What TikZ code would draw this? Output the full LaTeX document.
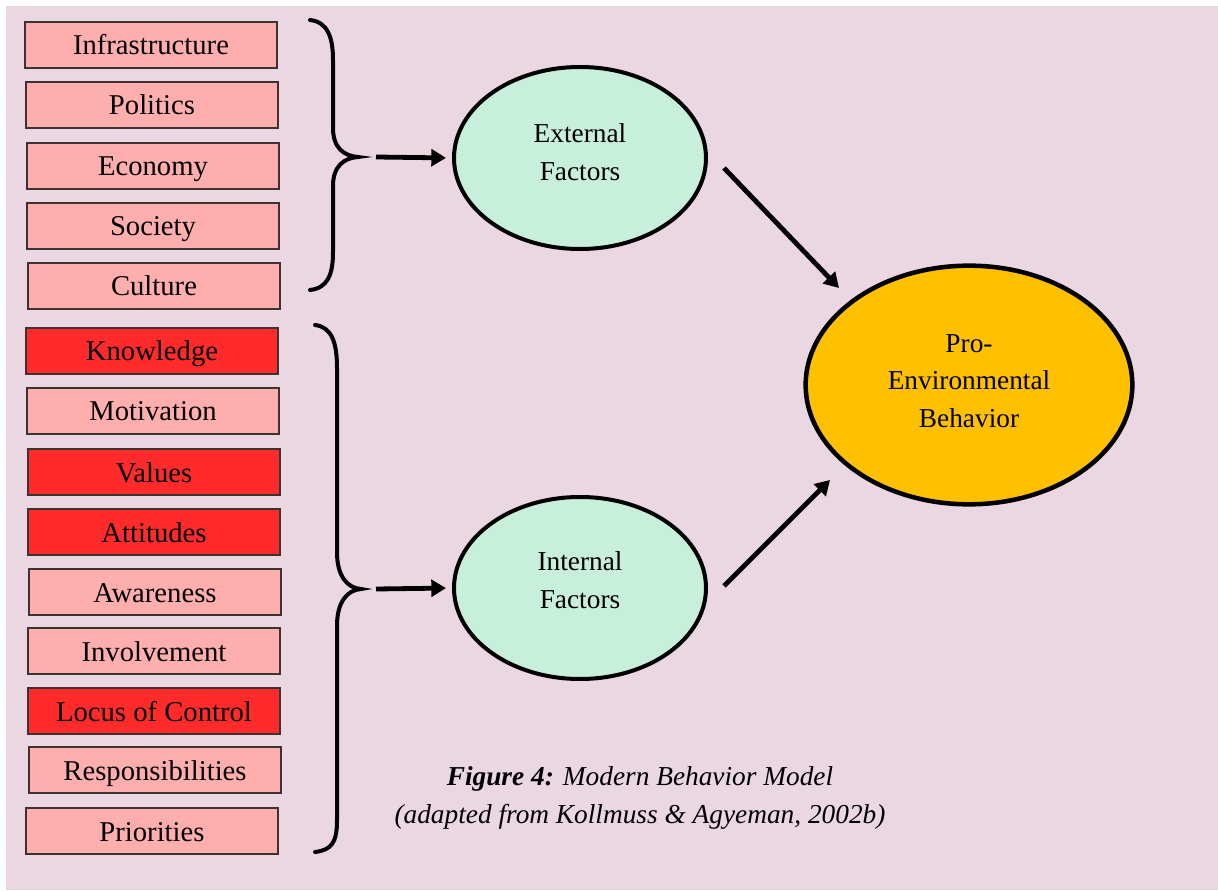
\documentclass[tikz,border=0pt]{standalone}
\usepackage{fontspec}
\setmainfont{Liberation Serif}
\usetikzlibrary{shapes.geometric,arrows.meta}
\definecolor{bgpink}{RGB}{234,215,225}
\definecolor{lightred}{RGB}{255,174,174}
\definecolor{strongred}{RGB}{255,43,43}
\definecolor{mint}{RGB}{200,239,220}
\definecolor{amber}{RGB}{255,192,0}
\definecolor{boxline}{RGB}{60,50,50}
\tikzset{
  factor/.style={draw=boxline, line width=0.9pt, fill=lightred,
    minimum width=189pt, minimum height=34.5pt, inner sep=0pt,
    text height=18pt, text depth=3pt,
    font=\fontsize{21.5}{24}\selectfont},
  keyfactor/.style={factor, fill=strongred},
  group/.style={ellipse, draw=black, line width=3pt, fill=mint,
    minimum width=189pt, minimum height=136.5pt, inner sep=0pt,
    align=center, font=\fontsize{20.5}{28}\selectfont},
  outcome/.style={group, fill=amber, line width=3.4pt,
    minimum width=245pt, minimum height=179pt},
  brace/.style={draw=black, line width=3pt, line cap=round},
  flow/.style={draw=black, line width=3.6pt,
    -{Triangle[length=11pt,width=12.5pt]}},
}
\begin{document}
\begin{tikzpicture}[x=0.75pt, y=-0.75pt]
  \useasboundingbox (0,0) rectangle (1218,891);
  \fill[white] (0,0) rectangle (1218,891);
  \fill[bgpink] (6,6) rectangle (1218,890);

  % external factors
  \node[factor] (infra) at (151,45) {Infrastructure};
  \node[factor] (pol) at (152,105) {Politics};
  \node[factor] (eco) at (153,166) {Economy};
  \node[factor] (soc) at (153,226) {Society};
  \node[factor] (cul) at (154,286) {Culture};

  % internal factors
  \node[keyfactor] (know) at (152,351) {Knowledge};
  \node[factor] (mot) at (153,411) {Motivation};
  \node[keyfactor] (val) at (154,472) {Values};
  \node[keyfactor] (att) at (154,532) {Attitudes};
  \node[factor] (awa) at (155,592) {Awareness};
  \node[factor] (inv) at (154,651) {Involvement};
  \node[keyfactor] (loc) at (154,711) {Locus of Control};
  \node[factor] (resp) at (155,770) {Responsibilities};
  \node[factor] (prio) at (152,831) {Priorities};

  % braces
  \draw[brace] (310,20) .. controls (328,22) and (333,38) .. (333,60)
    -- (333,128) .. controls (333,148) and (344,156) .. (358,157)
    .. controls (344,158) and (333,166) .. (333,186)
    -- (333,252) .. controls (333,274) and (328,288) .. (310,290);
  \draw[brace] (315,325) .. controls (332,327) and (337,343) .. (337,368)
    -- (337,552) .. controls (337,576) and (347,588) .. (361,589)
    .. controls (347,590) and (337,602) .. (337,626)
    -- (337,820) .. controls (337,842) and (332,850) .. (315,852);

  % factor groups and outcome
  \node[group, text depth=9pt] (ext) at (580,158) {External\\Factors};
  \node[group, text depth=12pt] (int) at (580,588) {Internal\\Factors};
  \node[outcome, text depth=6pt] (peb) at (969,385) {Pro-\\Environmental\\Behavior};

  % arrow anchors
  \coordinate (extin) at (376,157);
  \coordinate (intin) at (376,589);
  \coordinate (extout) at (724,168);
  \coordinate (intout) at (724,586);
  \coordinate (pebtop) at (839,288);
  \coordinate (pebbot) at (830,480);

  \draw[flow, shorten >=4.5pt] (extin) -- (ext.west);
  \draw[flow, shorten >=4.5pt] (intin) -- (int.west);
  \draw[flow] (extout) -- (pebtop);
  \draw[flow] (intout) -- (pebbot);

  % caption
  \node[align=center, font=\fontsize{20.5}{29}\selectfont\itshape] (cap) at (640,798)
    {\textbf{Figure 4:} Modern Behavior Model\\(adapted from Kollmuss \& Agyeman, 2002b)};
\end{tikzpicture}
\end{document}
